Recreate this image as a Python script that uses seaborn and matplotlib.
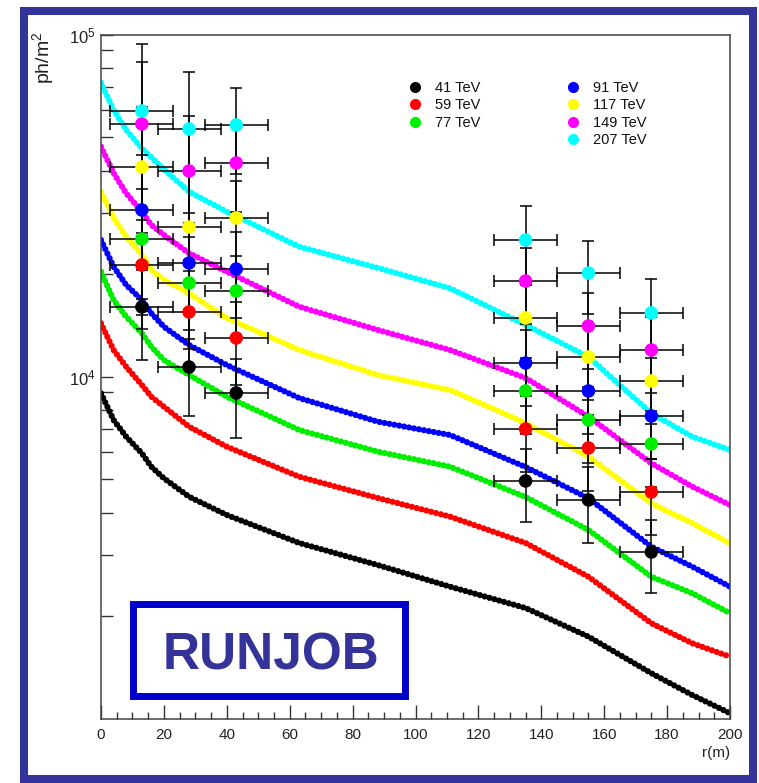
import numpy as np
import pandas as pd
import matplotlib
matplotlib.use("Agg")
import matplotlib.pyplot as plt
from matplotlib.ticker import FixedLocator, MultipleLocator, NullFormatter
from matplotlib.patches import Rectangle
from matplotlib.lines import Line2D
import seaborn as sns

# ---------------- data ----------------
energies = ["41 TeV", "59 TeV", "77 TeV", "91 TeV", "117 TeV", "149 TeV", "207 TeV"]
colors = ["#000000", "#ff0000", "#00ee00", "#0000ff", "#ffff00", "#ff00ff", "#00ffff"]

curve_r = [0, 4, 8, 13, 16, 20, 28, 40, 63, 88, 111, 135, 155, 175, 188, 200]
curve_41 = [8930, 7462, 6668, 5962, 5448, 5038, 4451, 3936, 3260, 2810, 2429, 2104, 1735, 1356, 1171, 1036]
curve_59 = [14310, 11950, 10680, 9443, 8728, 8160, 7133, 6234, 5093, 4413, 3892, 3260, 2597, 1898, 1659, 1516]
curve_77 = [20250, 16740, 14960, 13380, 12220, 11170, 10100, 8728, 6975, 6029, 5448, 4443, 3557, 2597, 2323, 2031]
curve_91 = [25070, 20950, 18520, 16740, 15300, 13980, 12360, 10800, 8651, 7377, 6743, 5437, 4405, 3179, 2779, 2429]
curve_117 = [34700, 29080, 25640, 22700, 20480, 19150, 17510, 14800, 11950, 10100, 9130, 7300, 5827, 4258, 3722, 3253]
curve_149 = [46970, 39360, 34330, 30330, 27730, 25930, 22930, 20250, 16000, 13680, 11950, 9900, 7630, 5574, 4762, 4210]
curve_207 = [72290, 60150, 52580, 46480, 43740, 40340, 34700, 30330, 23960, 20770, 18110, 14150, 11400, 7806, 6668, 6098]

point_r = [13, 28, 43, 135, 155, 175]
point_r_err = [10, 10, 10, 10, 10, 10]
point_41 = [15970, 10660, 8950, 4949, 4355, 3068]
point_59 = [21180, 15440, 12960, 7022, 6180, 4595]
point_77 = [25230, 18770, 17780, 9070, 7462, 6348]
point_91 = [30680, 21470, 20620, 10950, 9070, 7665]
point_117 = [40990, 27360, 29080, 14830, 11400, 9700]
point_149 = [54740, 39890, 42110, 19020, 14050, 11950]
point_207 = [59750, 52930, 54370, 25070, 20070, 15340]

# relative (linear, symmetric) errors of the measured points
relerr_41 = [0.30, 0.28, 0.26, 0.24, 0.25, 0.24]
relerr_59 = [0.35, 0.32, 0.27, 0.25, 0.25, 0.25]
relerr_77 = [0.40, 0.36, 0.27, 0.25, 0.25, 0.25]
relerr_91 = [0.45, 0.40, 0.28, 0.25, 0.25, 0.25]
relerr_117 = [0.50, 0.43, 0.28, 0.25, 0.25, 0.25]
relerr_149 = [0.52, 0.45, 0.28, 0.25, 0.25, 0.25]
relerr_207 = [0.57, 0.47, 0.28, 0.26, 0.24, 0.26]

x_ticks = [0, 20, 40, 60, 80, 100, 120, 140, 160, 180, 200]

curves = [curve_41, curve_59, curve_77, curve_91, curve_117, curve_149, curve_207]
points = [point_41, point_59, point_77, point_91, point_117, point_149, point_207]
relerrs = [relerr_41, relerr_59, relerr_77, relerr_91, relerr_117, relerr_149, relerr_207]

curve_df = pd.DataFrame(
    [(r, v, e) for e, c in zip(energies, curves) for r, v in zip(curve_r, c)],
    columns=["r", "flux", "energy"],
)
point_df = pd.DataFrame(
    [(r, v, e, v * f, dr) for e, p, rel in zip(energies, points, relerrs)
     for r, v, f, dr in zip(point_r, p, rel, point_r_err)],
    columns=["r", "flux", "energy", "err", "rerr"],
)

# ---------------- style ----------------
sns.set_theme(style="white")
plt.rcParams["font.family"] = ["Liberation Sans", "DejaVu Sans"]
plt.rcParams["mathtext.fontset"] = "custom"
plt.rcParams["mathtext.rm"] = "Liberation Sans"
plt.rcParams["mathtext.it"] = "Liberation Sans:italic"
plt.rcParams["mathtext.bf"] = "Liberation Sans:bold"

W, H = 759, 783
fig = plt.figure(figsize=(W / 100, H / 100), dpi=100, facecolor="white")
ax = fig.add_axes([101 / W, 1 - 718.5 / H, (730 - 101) / W, (718.5 - 34.5) / H])
ax.set_facecolor("white")

palette = dict(zip(energies, colors))

sns.lineplot(data=curve_df, x="r", y="flux", hue="energy", palette=palette,
             linewidth=4.5, estimator=None, sort=False, legend=False, ax=ax,
             zorder=2, linestyle=(0, (0.001, 0.8)), dash_capstyle="round",
             solid_joinstyle="round")

ax.errorbar(point_df["r"], point_df["flux"], xerr=point_df["rerr"],
            yerr=point_df["err"], fmt="none", ecolor="black",
            elinewidth=1.1, capsize=4.5, capthick=1.1, zorder=3)

sns.scatterplot(data=point_df, x="r", y="flux", hue="energy", palette=palette,
                s=95, edgecolor="none", linewidth=0, legend=False, ax=ax, zorder=4)

ax.set_yscale("log")
ax.set_xlim(0, 200)
ax.set_ylim(1e3, 1e5)

ax.xaxis.set_major_locator(FixedLocator(x_ticks))
ax.xaxis.set_minor_locator(MultipleLocator(5))
ax.set_xticklabels([str(t) for t in x_ticks])
ax.yaxis.set_major_locator(FixedLocator([1e4, 1e5]))
ax.set_yticklabels([r"$10^{4}$", r"$10^{5}$"])
ax.yaxis.set_minor_locator(FixedLocator([k * 1e3 for k in range(2, 10)] + [k * 1e4 for k in range(2, 10)]))
ax.yaxis.set_minor_formatter(NullFormatter())

ax.tick_params(axis="both", which="both", direction="in", colors="#333333",
               top=False, right=False, left=True, bottom=True, width=1.0)
ax.tick_params(axis="x", which="major", length=10, pad=7, labelsize=11, labelcolor="#222222")
ax.tick_params(axis="x", which="minor", length=5)
ax.tick_params(axis="y", which="major", length=8.5, pad=4, labelsize=12, labelcolor="#222222")
ax.tick_params(axis="y", which="minor", length=8.5)
for sp in ax.spines.values():
    sp.set_color("#444444")
    sp.set_linewidth(1.1)

ax.set_xlabel("r(m)", loc="right", fontsize=11, color="#222222", labelpad=3)
ax.set_ylabel("")
fig.text(43 / W, 1 - 32 / H, r"ph/m$^{2}$", rotation=90, ha="center", va="top",
         fontsize=14, color="#222222")

# legend
handles = []
labels = []
order = [0, 1, 2, None, 3, 4, 5, 6]
for i in order:
    if i is None:
        handles.append(Line2D([], [], linestyle="", marker=""))
        labels.append("")
    else:
        handles.append(Line2D([], [], linestyle="", marker="o", markersize=8,
                              markerfacecolor=colors[i], markeredgecolor="none"))
        labels.append(energies[i])
ax.legend(handles, labels, ncol=2, loc="upper left", frameon=False,
          bbox_to_anchor=(407.7 / W, 1 - 81 / H), bbox_transform=fig.transFigure,
          fontsize=10.5, handlelength=1.0, handletextpad=0.87, columnspacing=5.85,
          labelspacing=0.23, borderpad=0, borderaxespad=0, labelcolor="#111111")

# RUNJOB box
fig.add_artist(Rectangle((132.5 / W, 1 - 695.5 / H), (405.5 - 132.5) / W, (695.5 - 603.5) / H,
                         transform=fig.transFigure, facecolor="white", edgecolor="#0000cc",
                         linewidth=5.0, zorder=5))
fig.text(271.5 / W, 1 - 670 / H, "RUNJOB", ha="center", va="baseline", fontsize=37,
         fontweight="bold", color="#333399", zorder=6)

# outer frame
fig.add_artist(Rectangle((23.5 / W, 1 - 778.5 / H), (752.5 - 23.5) / W, (778.5 - 11) / H,
                         transform=fig.transFigure, fill=False, edgecolor="#333399",
                         linewidth=5.8, zorder=10))

fig.savefig("out.png", dpi=100, facecolor="white")
